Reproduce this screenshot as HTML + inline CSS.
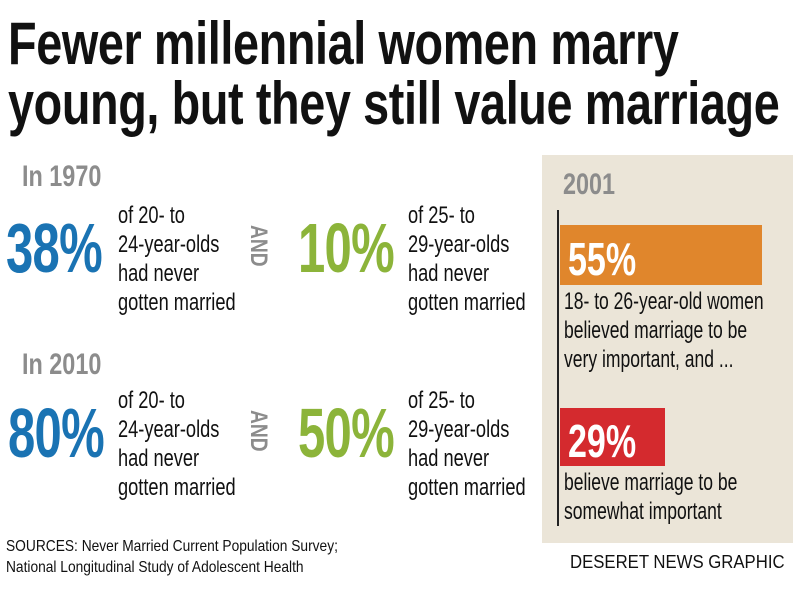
<!DOCTYPE html>
<html><head><meta charset="utf-8"><style>
body{margin:0;background:#fff;}
#c{position:relative;width:800px;height:598px;overflow:hidden;background:#fff;font-family:"Liberation Sans",sans-serif;}
.t{position:absolute;white-space:nowrap;transform-origin:0 0;}
.ttl{font-weight:bold;font-size:60px;color:#111;transform:scaleX(0.78);letter-spacing:-0.5px}
.yr{font-weight:bold;font-size:30px;color:#8c8c8c;transform:scaleX(0.78)}
.big{font-weight:bold;font-size:70px;transform:scaleX(0.7);letter-spacing:-1px}
.txt{font-size:24px;color:#111;line-height:29px;transform:scaleX(0.76)}
.ptxt{font-size:24px;color:#111;line-height:29px;transform:scaleX(0.73)}
.and{position:absolute;font-weight:bold;font-size:24px;color:#8c8c8c;transform:rotate(90deg) scaleX(0.8);transform-origin:0 0;white-space:nowrap}
.blue{color:#1a73b3}.green{color:#8cb43a}
</style></head><body><div id="c">
<div class="t ttl" style="left:8px;top:9px">Fewer millennial women marry</div>
<div class="t ttl" style="left:8px;top:69px">young, but they still value marriage</div>

<div class="t yr" style="left:22px;top:160px">In 1970</div>
<div class="t big blue" style="left:6px;top:208px">38%</div>
<div class="t txt" style="left:118px;top:201px">of 20- to<br>24-year-olds<br>had never<br>gotten married</div>
<div class="and" style="left:272px;top:225px">AND</div>
<div class="t big green" style="left:298px;top:208px">10%</div>
<div class="t txt" style="left:408px;top:201px">of 25- to<br>29-year-olds<br>had never<br>gotten married</div>

<div class="t yr" style="left:22px;top:348px">In 2010</div>
<div class="t big blue" style="left:8px;top:393px">80%</div>
<div class="t txt" style="left:118px;top:386px">of 20- to<br>24-year-olds<br>had never<br>gotten married</div>
<div class="and" style="left:272px;top:410px">AND</div>
<div class="t big green" style="left:298px;top:393px">50%</div>
<div class="t txt" style="left:408px;top:386px">of 25- to<br>29-year-olds<br>had never<br>gotten married</div>

<div class="t" style="left:6px;top:536px;font-size:16px;line-height:21px;color:#111;transform:scaleX(0.86)">SOURCES: Never Married Current Population Survey;<br>National Longitudinal Study of Adolescent Health</div>

<div style="position:absolute;left:542px;top:155px;width:251px;height:388px;background:#ebe5d8"></div>
<div style="position:absolute;left:557px;top:210px;width:2px;height:316px;background:#222"></div>
<div class="t yr" style="left:563px;top:168px">2001</div>
<div style="position:absolute;left:560px;top:225px;width:202px;height:60px;background:#e0862c"></div>
<div class="t" style="left:568px;top:232px;font-weight:bold;font-size:46px;color:#fff;transform:scaleX(0.74)">55%</div>
<div class="t ptxt" style="left:564px;top:287px">18- to 26-year-old women<br>believed marriage to be<br>very important, and ...</div>
<div style="position:absolute;left:560px;top:408px;width:105px;height:58px;background:#d42a2e"></div>
<div class="t" style="left:568px;top:414px;font-weight:bold;font-size:46px;color:#fff;transform:scaleX(0.74)">29%</div>
<div class="t ptxt" style="left:564px;top:468px">believe marriage to be<br>somewhat important</div>
<div class="t" style="left:570px;top:552px;font-size:18px;color:#111;transform:scaleX(0.93)">DESERET NEWS GRAPHIC</div>
</div></body></html>
